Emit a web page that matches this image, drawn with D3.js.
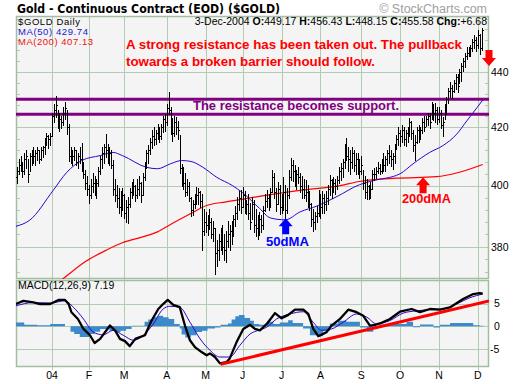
<!DOCTYPE html>
<html lang="en">
<head>
<meta charset="utf-8">
<script src="https://d3js.org/d3.v7.min.js"></script>
<style>
  body { margin: 0; background: #fff; }
  svg text { font-family: "Liberation Sans", Arial, sans-serif; }
</style>
</head>
<body>
<svg id="chart" width="520" height="384"></svg>
<script>
// ---- daily bars, 3-Dec-2003 .. 3-Dec-2004 (index = trading day) ----
var highs = [
  407, 406, 409, 410, 408, 411, 412, 409, 411, 412,
  413, 412, 413, 412, 413, 413.5, 416, 418, 417, 418,
  425, 428, 431, 426, 425, 424, 427, 429, 426, 421,
  413, 412, 413, 412, 411, 413, 414.5, 408, 405, 403,
  400, 402, 404, 403, 402, 406, 410, 413, 414, 417.5,
  414, 413, 412, 408.5, 402, 400, 399, 398, 399, 397,
  395, 396, 399, 401, 402, 400, 402, 403, 401, 404,
  408, 412, 413.6, 416, 419, 420, 419, 421, 420, 421,
  424, 424.4, 428, 432.3, 427, 423, 424, 423.5, 422, 417,
  407, 406, 404, 402, 401, 396, 395, 397, 399.3, 399,
  398, 397, 392, 391, 390, 392, 389, 388, 386, 382,
  384, 386, 387, 384, 385, 388, 387, 388, 390, 393,
  396, 398, 398.3, 399.3, 398, 395, 397, 394, 396, 395,
  392, 390, 391, 390, 393, 397, 398.3, 397, 399, 405,
  404, 399, 401, 400, 397, 402.7, 400, 399, 405, 409.2,
  408.5, 406.8, 405, 406, 404, 403, 402, 401.7, 400, 398,
  394, 392, 391, 393, 398.3, 397, 398, 397, 398, 400,
  403.4, 402, 402.7, 402, 403, 406, 407.5, 409, 414, 416,
  413, 412, 413, 412, 411, 411, 409, 410, 405, 403,
  402, 400, 401, 405, 405.7, 406, 408, 407, 409, 411,
  410, 412, 413.6, 412, 411, 414, 417, 420, 419, 420.6,
  420, 419, 420, 423, 422, 419, 417, 420, 420.6, 420,
  423, 424, 424, 425, 425, 429, 428, 428.5, 427, 427,
  426, 423.5, 428, 430.7, 434, 436, 435, 437, 439, 439,
  441, 443, 445, 447, 449, 449, 450, 452, 453.7, 453,
  455.5, 454, 456.43
];
var lows = [
  400, 401, 404, 405, 403, 404, 406, 401.5, 405, 407,
  408, 407, 409, 408, 409, 410, 411, 414, 413, 414,
  417, 422, 424, 420, 419, 420, 421, 423, 418, 408.5,
  408, 407, 409, 407, 406, 408, 405, 402.7, 399, 397,
  394.5, 396, 398, 397, 396, 400, 404, 406, 408, 410,
  408, 407, 406, 397, 395, 393, 391, 390, 392, 389.5,
  388, 387.7, 393, 396, 397, 395, 396, 397, 394.8, 397,
  402, 406, 408, 411, 413, 414, 414.3, 416, 415, 416,
  418.6, 419, 421, 425, 418, 415.3, 417, 418, 416, 404.5,
  400, 399, 396.7, 397, 395, 390, 390.5, 392.8, 394, 394,
  393, 379, 384, 385, 384, 386, 383, 382, 371.6, 374,
  376, 379, 378, 376, 375.5, 380, 379, 381, 383.7, 387,
  389, 392, 391, 393, 391, 390.7, 389, 386, 389, 385,
  383.7, 382.6, 384, 385, 386, 391.7, 393, 392, 393, 398,
  396, 391.8, 394, 390.7, 391, 392, 388.6, 391, 396, 402,
  401.7, 400, 399, 401, 398, 396, 396, 395, 393, 392,
  387, 385.4, 386, 388, 390, 389.5, 391, 391, 392, 394,
  397, 396, 398, 397.3, 399, 401, 402, 403, 406, 409,
  405, 404, 406, 405, 404, 404, 402.7, 404, 399, 396,
  395.6, 395.6, 396, 399, 402, 402.7, 404.5, 404, 404.4, 405,
  405, 407, 408, 406.8, 405.7, 408, 412.6, 414, 413.6, 415,
  414, 413.6, 415, 417, 416, 412, 409, 414.7, 415, 416,
  418.3, 419, 420.6, 421, 420, 423, 422.9, 422, 421.5, 422,
  420, 417, 423, 425, 429, 431, 430.7, 433, 434, 433,
  436, 437, 440.6, 442, 445, 446, 446, 448, 449, 448,
  449, 447, 448.15
];
var closes = [
  403, 405, 407, 408, 405, 409, 410, 404, 410, 411,
  410, 411, 412, 409, 412, 413, 415, 417, 416, 417,
  424, 426, 428, 421, 423, 422, 425, 427, 420, 410,
  411, 410, 412, 408, 410, 409, 407, 404, 401, 399,
  397, 400, 401, 399, 401, 405, 409, 411, 413, 412,
  410, 411, 407, 399, 397, 396, 393, 395, 397, 391,
  393, 394, 398, 399, 400, 397, 399, 401, 397, 403,
  407, 411, 412, 415, 417, 416, 418, 419, 417, 420,
  423, 422, 427, 426, 420, 418, 422, 420, 419, 406,
  404, 401, 398, 400, 396, 392, 394, 396, 397, 398,
  395, 385, 388, 387, 389, 388, 384, 386, 378, 379,
  382, 383, 380, 379, 382, 384, 385, 386, 389, 391,
  394, 396, 393, 397, 393, 394, 391, 388, 394, 387,
  386, 385, 389, 387, 392, 395, 396, 394, 398, 403,
  398, 394, 399, 393, 395, 398, 392, 397, 403, 407,
  405, 402, 404, 403, 400, 399, 397, 398, 395, 394,
  389, 388, 390, 391, 396, 393, 396, 394, 396, 399,
  402, 399, 401, 400, 402, 405, 406, 408, 412, 410,
  409, 408, 411, 407, 409, 408, 405, 407, 401, 398,
  400, 397, 399, 404, 404, 405, 406, 405, 408, 407,
  409, 411, 410, 409, 410, 413, 416, 418, 417, 419,
  416, 418, 418, 422, 418, 414, 415, 419, 417, 419,
  422, 420, 423, 424, 422, 427, 425, 426, 423, 425,
  421, 422, 427, 430, 433, 434, 433, 436, 438, 435,
  440, 442, 444, 446, 447, 448, 449, 451, 452, 450,
  454, 448.9, 455.58
];

// first trading day of each month (bar index) and its label
var monthStarts = [20, 40, 59, 82, 103, 123, 144, 165, 187, 208, 229, 250];
var monthLabels = ["04", "F", "M", "A", "M", "J", "J", "A", "S", "O", "N", "D"];

// moving averages: [bar index, value]
var ma50 = [
  [0.5, 386.6], [8, 388.6], [20.5, 398.3], [28, 404.5], [36, 408.5], [46, 410.2],
  [53, 411.3], [58, 410.2], [71, 406.2], [77, 405.7], [84, 407.4], [90, 408.5],
  [95, 408.2], [101.5, 406.2], [109, 402.8], [117.5, 400], [123, 397.6], [132, 392.5],
  [138, 389.3], [146, 388.7], [154, 391.3], [163, 393.2], [174, 396.4], [186, 400.3],
  [193, 401.6], [208, 404], [215, 407.4], [224, 411.3], [231, 413.6], [238.5, 417.6],
  [244, 422.3], [249.5, 427], [252.6, 429.74]
];
var ma200 = [
  [18, 366.5], [26, 370], [38.5, 375.5], [49.5, 379], [58, 381.3], [69, 383.2],
  [77, 384.8], [84, 387.2], [94.5, 390.6], [103.5, 393.4], [114, 394.6], [125, 395.7],
  [132, 396.4], [154, 398.4], [175.5, 400], [186, 401.4], [206, 402.5], [227.5, 403],
  [240, 404.5], [252.6, 407.13]
];

// MACD(12,26,9): [bar index, value]
var macdLine = [
  [0.5, 4.9], [4.5, 5.6], [10, 5.25], [13.5, 4.9], [19, 4.9], [23.5, 5.8], [27, 5.8],
  [29, 4.9], [30.5, 3.1], [34, 1.6], [37, -0.6], [40.5, -2.0], [43, -3.7], [46, -2.8],
  [51.3, 0.15], [54, -0.9], [56.7, -2.8], [59.4, -3.3], [62, -4.4], [65, -2.8],
  [67.5, -2.4], [70.2, -2.0], [73.8, 1.25], [77.4, 3.8], [80, 4.9], [82.5, 5.8],
  [85.5, 4.7], [89, 4.2], [91.8, 0.15], [94.5, -3.1], [97.2, -4.6], [100.8, -5.7],
  [103.5, -6.4], [105.3, -6.0], [108, -6.8], [110.7, -8.2], [114.3, -7.9], [116, -7.1],
  [119.7, -3.5], [123.3, -0.6], [127, 0.3], [129.6, -0.6], [132.3, -0.9], [136, 0.5],
  [140.4, 2.9], [144, 1.75], [147.6, 2.5], [151.2, 3.65], [155.7, 3.65], [158.4, 2.7],
  [161.1, -0.6], [163.8, -2.2], [168.3, -1.3], [171, 0.15], [175.5, 1.6], [180, 3.65],
  [184.5, 3.1], [188.1, 2.3], [191.7, 0.15], [194.4, 0.3], [198, 0.75], [202.5, 1.6],
  [207.9, 3.2], [214.2, 3.8], [218.7, 3.1], [224.1, 3.8], [229.5, 3.65], [234.9, 4.15],
  [242, 6.0], [247.5, 7.1], [251, 7.3], [252.6, 7.19]
];
var signalLine = [
  [0.5, 4.5], [9.7, 5.2], [19, 5.1], [27, 5.6], [31.5, 4.2], [37, 1.6], [42.3, -1.3],
  [47.7, -1.9], [53, -0.9], [58.5, -2.0], [64, -3.1], [69.3, -2.0], [74.7, 0.5],
  [80, 3.8], [83.7, 4.4], [89, 4.2], [94.5, 0.9], [100, -2.8], [105.3, -5.3],
  [110.7, -6.8], [116, -6.8], [121.5, -4.2], [127, -1.7], [131.4, -0.9], [136, -0.2],
  [141.3, 1.6], [148.5, 2.7], [155.7, 3.2], [161, 0.9], [165.6, -0.9], [171, -0.6],
  [177.3, 0.9], [184.5, 2.7], [190, 2.0], [195.3, 0.5], [202.5, 1.25], [209.7, 2.9],
  [217, 3.4], [224, 3.65], [231.3, 3.8], [238.5, 4.9], [245.7, 6.3], [252.6, 7.1]
];
var histBars = [
  [0.5, 0.8], [5, 0.3], [12, 0.2], [19, 0.5], [27, 0.0], [30, -1.2], [32, -1.7],
  [35, -2.4], [40, -1.7], [43, -1.2], [46, -0.6], [51, -1.0], [54, -1.3], [57, -1.0],
  [60, -0.6], [63, 0.1], [67, 0.1], [70, 1.0], [72, 1.5], [75, 2.0], [77, 2.3],
  [80, 2.0], [83, 1.6], [86, 0.5], [89, -0.5], [90, -1.8], [92, -2.5], [95, -2.0],
  [98, -1.3], [101, -1.0], [104, -0.5], [108, -0.3], [111, 0.3], [115, 0.6], [117, 1.5],
  [119, 2.2], [121, 2.5], [124, 1.8], [127, 1.2], [129, 0.5], [132, 0.3], [136, 1.0],
  [139.5, 0.5], [143, 0.8], [147.5, 1.3], [150, 0.7], [155.6, -0.5], [159.3, -2.0],
  [163, -2.2], [166.4, -1.0], [170, 0.6], [174.5, 1.2], [179, 1.0], [186.3, -0.3],
  [190, -1.2], [193.5, -0.3], [197, 0.3], [204.3, 0.5], [211.5, 1.0], [215, -0.2],
  [218.7, 0.4], [226, -0.3], [229.5, 0.3], [235, 0.7], [247.5, 0.2], [251, 0.1], [253, 0.1]
];

var priceGrid = [380, 400, 420, 440];
var priceMinor = d3.range(372, 461, 4);
var macdTicks = [5, 0, -5];

// ---- layout ----
var svg = d3.select("#chart");
var pL = 16, pR = 489, pT = 16, pMid = 279, pB = 367;
var gridColor = "#b3cbb3";

var x = d3.scaleLinear().domain([0.56, 256]).range([pL, pR]);
var y = d3.scaleLog().domain([369.9, 461.1]).range([pMid, pT]);
var ym = d3.scaleLinear().domain([-9, 10.2]).range([pB, pMid + 1]);

svg.append("rect").attr("width", 520).attr("height", 384).attr("fill", "#fff");

var defs = svg.append("defs");
defs.append("clipPath").attr("id", "clipMain").append("rect")
  .attr("x", pL).attr("y", pT).attr("width", pR - pL).attr("height", pMid - pT);
defs.append("clipPath").attr("id", "clipMacd").append("rect")
  .attr("x", pL).attr("y", pMid + 1).attr("width", pR - pL).attr("height", pB - pMid - 1);

// panels
svg.append("rect").attr("x", pL).attr("y", pT).attr("width", pR - pL).attr("height", pMid - pT)
  .attr("fill", "#f4f4f4");
svg.append("rect").attr("x", pL).attr("y", pMid + 1).attr("width", pR - pL).attr("height", pB - pMid - 1)
  .attr("fill", "#f4f4f4");

var grid = svg.append("g").attr("stroke", gridColor).attr("shape-rendering", "crispEdges");
grid.append("g").selectAll("line").data(monthStarts).join("line")
  .attr("x1", d => Math.round(x(d)) + 0.5).attr("x2", d => Math.round(x(d)) + 0.5)
  .attr("y1", pT).attr("y2", pB + 3);
grid.append("g").selectAll("line").data(priceGrid).join("line")
  .attr("x1", pL).attr("x2", pR)
  .attr("y1", d => Math.round(y(d)) + 0.5).attr("y2", d => Math.round(y(d)) + 0.5);
grid.append("g").selectAll("line").data(macdTicks).join("line")
  .attr("x1", pL).attr("x2", pR)
  .attr("y1", d => Math.round(ym(d)) + 0.5).attr("y2", d => Math.round(ym(d)) + 0.5);
// minor ticks on both edges of the price panel
grid.append("g").selectAll("line").data(priceMinor).join("line")
  .attr("x1", pL).attr("x2", pL + 4)
  .attr("y1", d => Math.round(y(d)) + 0.5).attr("y2", d => Math.round(y(d)) + 0.5);
grid.append("g").selectAll("line").data(priceMinor).join("line")
  .attr("x1", pR - 4).attr("x2", pR)
  .attr("y1", d => Math.round(y(d)) + 0.5).attr("y2", d => Math.round(y(d)) + 0.5);

// panel frames
svg.append("rect").attr("x", pL + 0.5).attr("y", pT + 0.5).attr("width", pR - pL - 1).attr("height", pMid - pT - 1)
  .attr("fill", "none").attr("stroke", "#a3bda3").attr("stroke-width", 1.5);
svg.append("rect").attr("x", pL + 0.5).attr("y", pMid + 1.5).attr("width", pR - pL - 1).attr("height", pB - pMid - 2)
  .attr("fill", "none").attr("stroke", "#a3bda3").attr("stroke-width", 1.5);

// ---- price panel ----
var main = svg.append("g").attr("clip-path", "url(#clipMain)");

// resistance band
main.append("g").selectAll("line").data([430, 424.7]).join("line")
  .attr("x1", pL).attr("x2", pR)
  .attr("y1", d => y(d)).attr("y2", d => y(d))
  .attr("stroke", "#800080").attr("stroke-width", 3);

var maLine = d3.line().x(d => x(d[0])).y(d => y(d[1])).curve(d3.curveMonotoneX);
main.append("path").attr("d", maLine(ma200)).attr("fill", "none").attr("stroke", "#ff0000").attr("stroke-width", 1.2);
main.append("path").attr("d", maLine(ma50)).attr("fill", "none").attr("stroke", "#3300cc").attr("stroke-width", 1);

var idx = d3.range(closes.length);
var barG = main.append("g").attr("stroke", "#000").attr("shape-rendering", "crispEdges");
barG.append("g").selectAll("line").data(idx).join("line")
  .attr("x1", i => Math.round(x(i)) + 0.5).attr("x2", i => Math.round(x(i)) + 0.5)
  .attr("y1", i => Math.floor(y(highs[i]))).attr("y2", i => Math.ceil(y(lows[i])) + 1);
barG.append("g").selectAll("line").data(idx).join("line")
  .attr("x1", i => Math.round(x(i)) + 1).attr("x2", i => Math.round(x(i)) + 2)
  .attr("y1", i => Math.round(y(closes[i])) + 0.5).attr("y2", i => Math.round(y(closes[i])) + 0.5);

// ---- annotations ----
function arrow(cx, tipY, dir, color) {
  var s = dir === "up" ? 1 : -1;
  var pts = [[0, 0], [7, 8], [3.5, 8], [3.5, 16], [-3.5, 16], [-3.5, 8], [-7, 8]];
  svg.append("polygon")
    .attr("points", pts.map(p => [cx + p[0], tipY + s * p[1]].join(",")).join(" "))
    .attr("fill", color);
}
arrow(x(146.2), y(389.2), "up", "#0000ff");
arrow(x(220.4), y(402.8), "up", "#ff0000");
arrow(489, 66, "down", "#ff0000");

svg.append("text").attr("x", 266).attr("y", 246).attr("textLength", 43).attr("lengthAdjust", "spacingAndGlyphs")
  .attr("font-size", 13).attr("font-weight", "bold").attr("fill", "#0000ff").text("50dMA");
svg.append("text").attr("x", 402).attr("y", 202.5).attr("textLength", 49).attr("lengthAdjust", "spacingAndGlyphs")
  .attr("font-size", 13).attr("font-weight", "bold").attr("fill", "#ff0000").text("200dMA");
svg.append("text").attr("x", 193).attr("y", 109.5).attr("textLength", 206).attr("lengthAdjust", "spacingAndGlyphs")
  .attr("font-size", 13.5).attr("font-weight", "bold").attr("fill", "#800080").text("The resistance becomes support.");
svg.append("text").attr("x", 126).attr("y", 49).attr("textLength", 336).attr("lengthAdjust", "spacingAndGlyphs")
  .attr("font-size", 13).attr("font-weight", "bold").attr("fill", "#ff0000")
  .text("A strong resistance has been taken out. The pullback");
svg.append("text").attr("x", 126).attr("y", 66).attr("textLength", 249).attr("lengthAdjust", "spacingAndGlyphs")
  .attr("font-size", 13).attr("font-weight", "bold").attr("fill", "#ff0000")
  .text("towards a broken barrier should follow.");

// ---- header ----
svg.append("text").attr("x", 17).attr("y", 12.5).attr("textLength", 263).attr("lengthAdjust", "spacingAndGlyphs")
  .style("font-family", "'DejaVu Sans', Verdana, sans-serif")
  .attr("font-size", 12).attr("font-weight", "bold").attr("fill", "#000")
  .text("Gold - Continuous Contract (EOD) ($GOLD)");
svg.append("text").attr("x", 487).attr("y", 12.5).attr("text-anchor", "end")
  .attr("font-size", 12.5).attr("fill", "#a0a0a0").text("\u00a9 StockCharts.com");

svg.append("text").attr("x", 18).attr("y", 24.5).attr("textLength", 62).attr("font-size", 9.5).text("$GOLD Daily");
svg.append("text").attr("x", 18).attr("y", 34.5).attr("textLength", 70).attr("font-size", 9.5).attr("fill", "#2020d0").text("MA(50) 429.74");
svg.append("text").attr("x", 18).attr("y", 44.5).attr("textLength", 75).attr("font-size", 9.5).attr("fill", "#ee1111").text("MA(200) 407.13");

var info = svg.append("text").attr("x", 487).attr("y", 25).attr("text-anchor", "end").attr("font-size", 10.5);
[["3-Dec-2004 ", false], ["O:", true], ["449.17 ", false], ["H:", true], ["456.43 ", false],
 ["L:", true], ["448.15 ", false], ["C:", true], ["455.58 ", false], ["Chg:", true], ["+6.68", false]]
  .forEach(function (t) {
    info.append("tspan").attr("font-weight", t[1] ? "bold" : "normal").text(t[0]);
  });

// ---- right axis labels ----
svg.append("g").selectAll("text").data(priceGrid).join("text")
  .attr("x", 491).attr("y", d => y(d) + 3.8).attr("font-size", 10.5).text(d => d);
svg.append("g").selectAll("text").data(macdTicks).join("text")
  .attr("x", d => d < 0 ? 490 : 494).attr("y", d => ym(d) + 3.8).attr("font-size", 10.5).text(d => d);

// ---- MACD panel ----
var macdG = svg.append("g").attr("clip-path", "url(#clipMacd)");
var hArea = d3.area().x(d => x(d[0])).y0(ym(0)).y1(d => ym(d[1])).curve(d3.curveStepAfter);
macdG.append("path").attr("d", hArea(histBars)).attr("fill", "#3d8acb");
var mLine = d3.line().x(d => x(d[0])).y(d => ym(d[1]));
macdG.append("path").attr("d", mLine.curve(d3.curveMonotoneX)(signalLine)).attr("fill", "none")
  .attr("stroke", "#3300cc").attr("stroke-width", 1);
macdG.append("path").attr("d", mLine.curve(d3.curveLinear)(macdLine)).attr("fill", "none")
  .attr("stroke", "#000").attr("stroke-width", 2.3).attr("stroke-linejoin", "round");
// support trendline on MACD
macdG.append("line")
  .attr("x1", x(111.1)).attr("y1", ym(-8.4)).attr("x2", x(256)).attr("y2", ym(5.6))
  .attr("stroke", "#ff0000").attr("stroke-width", 3);

svg.append("text").attr("x", 18).attr("y", 288.5).attr("font-size", 10.5).text("MACD(12,26,9)  7.19");

// ---- month labels ----
svg.append("g").selectAll("text").data(monthStarts).join("text")
  .attr("x", d => x(d)).attr("y", 378.5).attr("text-anchor", "middle").attr("font-size", 10.5)
  .text((d, i) => monthLabels[i]);
</script>
</body>
</html>
